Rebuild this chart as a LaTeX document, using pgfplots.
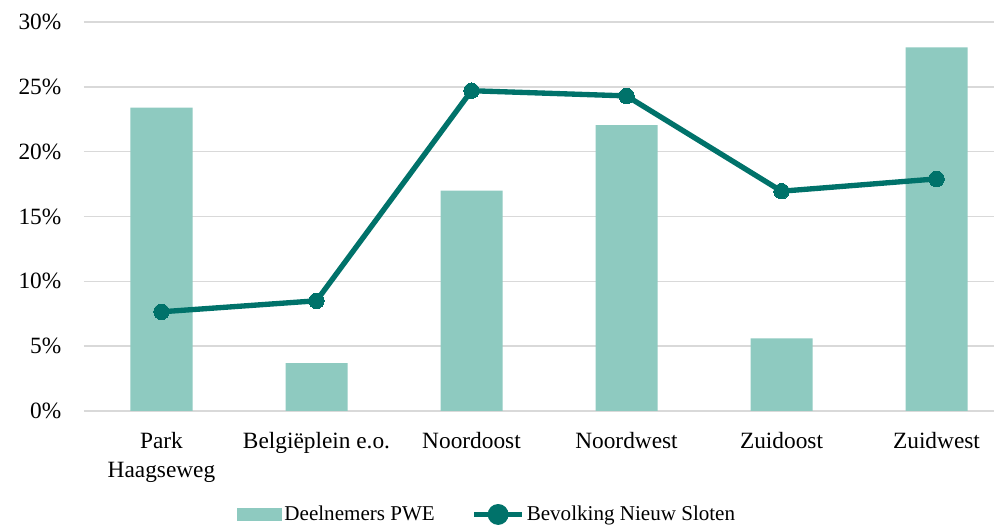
\documentclass[border=0pt]{standalone}
\usepackage{fontspec}
\setmainfont{Liberation Serif}
\usepackage{pgfplots}
\pgfplotsset{compat=1.18}
\usetikzlibrary{calc}
\definecolor{barcol}{RGB}{142,202,192}
\definecolor{linecol}{RGB}{0,114,106}
\definecolor{gridcol}{RGB}{217,217,217}
\begin{document}
\fontsize{17.5}{21}\selectfont
\begin{tikzpicture}
\begin{axis}[name=ax,
  scale only axis, width=682.5pt, height=291.75pt,
  xmin=-0.5, xmax=5.371, ymin=0, ymax=30,
  xtick={0,1,2,3,4,5},
  xticklabels={{Park\\Haagseweg},{Belgiëplein e.o.},Noordoost,Noordwest,Zuidoost,Zuidwest},
  xticklabel style={align=center, yshift=-10pt, font=\fontsize{17.5}{21.5}\selectfont},
  ytick={0,5,10,15,20,25,30},
  yticklabel={\pgfmathprintnumber{\tick}\%},
  yticklabel style={xshift=-11pt, font=\fontsize{17.5}{21}\selectfont},
  /pgf/number format/assume math mode=true,
  major tick length=0pt,
  axis line style={draw=none},
  ymajorgrids, grid style={gridcol, line width=1.2pt},
  legend columns=2,
  legend style={draw=none, at={(0.443,-0.266)}, anchor=center, font=\fontsize{15.8}{19}\selectfont,
    nodes={inner xsep=1.5pt},
    /tikz/every even column/.append style={column sep=26pt}},
]
\addplot[ybar, bar width=46.5pt, fill=barcol, draw=none,
  legend image code/.code={\fill[barcol] (0pt,-5pt) rectangle (34pt,5pt);}]
  coordinates {(0,23.4) (1,3.7) (2,17.0) (3,22.05) (4,5.6) (5,28.05)};
\addlegendentry{Deelnemers PWE}
\addplot[linecol, line width=4pt, mark=*, mark size=5.8pt, mark options={fill=linecol, draw=linecol, line width=0pt},
  legend image code/.code={\draw[linecol, line width=4pt] (0pt,0pt) -- (36pt,0pt); \fill[linecol] (18pt,0pt) circle (5.8pt);}]
  coordinates {(0,7.65) (1,8.5) (2,24.7) (3,24.3) (4,16.95) (5,17.9)};
\addlegendentry{Bevolking Nieuw Sloten}
\end{axis}
\pgfresetboundingbox
\path[use as bounding box] ($(ax.south west)+(-63pt,-88.5pt)$) rectangle ($(ax.north east)+(0pt,16.5pt)$);
\end{tikzpicture}
\end{document}
